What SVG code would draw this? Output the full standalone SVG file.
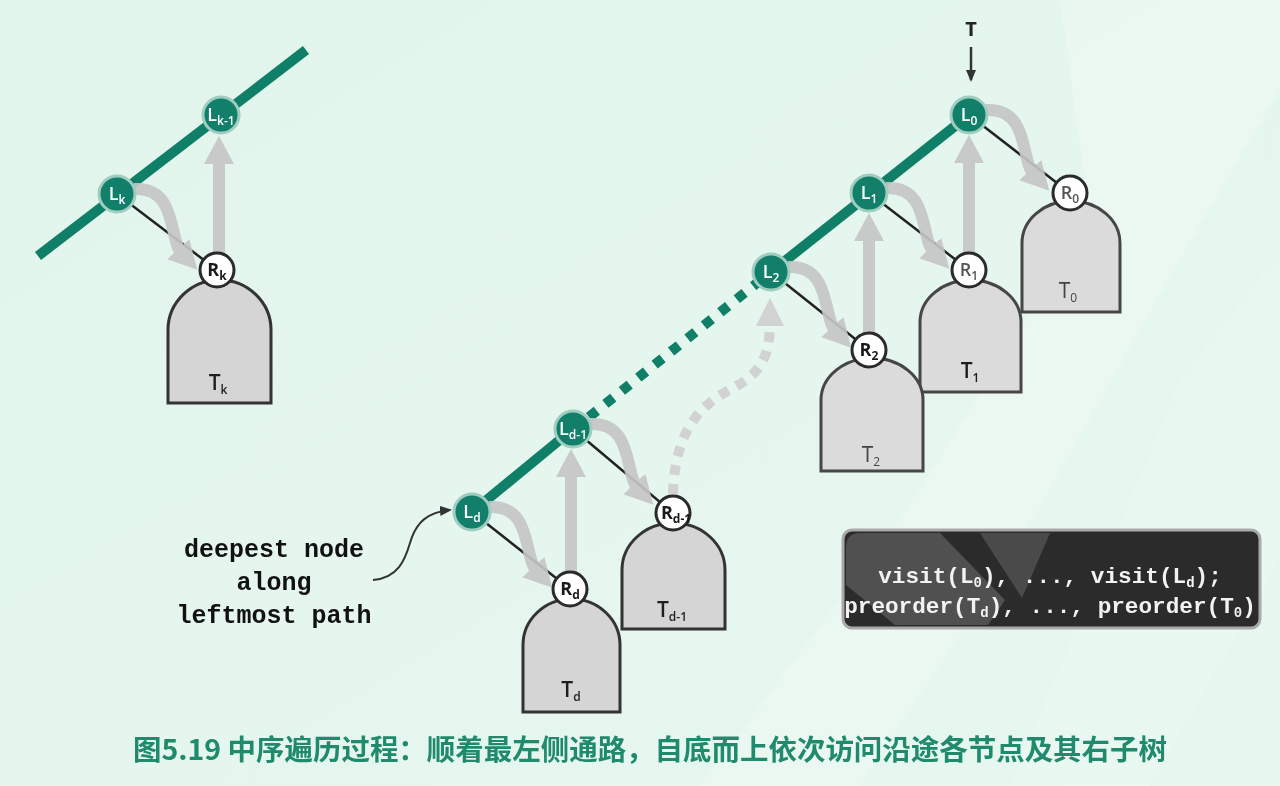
<svg xmlns="http://www.w3.org/2000/svg" width="1280" height="786" viewBox="0 0 1280 786">
<defs>
<linearGradient id="bg" x1="0" y1="0" x2="1" y2="1">
<stop offset="0" stop-color="#e2f5ec"/>
<stop offset="1" stop-color="#e6f7ef"/>
</linearGradient>
<marker id="gh" markerUnits="userSpaceOnUse" viewBox="0 0 28 30" markerWidth="28" markerHeight="30" refX="4" refY="15" orient="auto">
<path d="M0,0 L28,15 L0,30 Z" fill="#c6c6c6"/>
</marker>
<marker id="gh2" markerUnits="userSpaceOnUse" viewBox="0 0 28 28" markerWidth="28" markerHeight="28" refX="4" refY="14" orient="auto">
<path d="M0,0 L28,14 L0,28 Z" fill="#d2d2d2"/>
</marker>
<marker id="bh" markerUnits="userSpaceOnUse" viewBox="0 0 12 10" markerWidth="12" markerHeight="10" refX="10" refY="5" orient="auto">
<path d="M0,0 L12,5 L0,10 Z" fill="#333"/>
</marker>
<path id="curl" d="M17,-5 C60,-8 52,45 64,58"/>
<style>
.green{stroke:#0f7f67;stroke-width:10;fill:none}
.edge{stroke:#222;stroke-width:2.5}
.garrow{stroke:#c6c6c6;stroke-width:12;fill:none;marker-end:url(#gh)}
.lnode{fill:#117f69;stroke:#9fcdc0;stroke-width:3}
.rnode{fill:#ffffff;stroke:#2a2a2a;stroke-width:3}
.tree{fill:#d5d5d5;stroke:#333;stroke-width:3}
.tree2{fill:#dbdbdb;stroke:#464646;stroke-width:3}
.ltxt{font-family:"Open Sans","Liberation Sans",sans-serif;font-size:18px;font-weight:600;fill:#ffffff;text-anchor:middle}
.rtxt{font-family:"Open Sans","Liberation Sans",sans-serif;font-size:18px;font-weight:700;fill:#1a1a1a;text-anchor:middle}
.rtxt2{font-family:"Open Sans","Liberation Sans",sans-serif;font-size:18px;font-weight:600;fill:#555;text-anchor:middle}
.ttxt{font-family:"Open Sans","Liberation Sans",sans-serif;font-size:21px;font-weight:600;fill:#1e1e1e;text-anchor:middle}
.ttxt2{font-family:"Open Sans","Liberation Sans",sans-serif;font-size:21px;font-weight:400;fill:#444;text-anchor:middle}
.sub{font-size:12px}
.mono{font-family:"Liberation Mono","DejaVu Sans Mono",monospace;font-weight:700}
</style>
</defs>

<rect x="0" y="0" width="1280" height="786" fill="url(#bg)"/>
<g id="watermark" fill="#ffffff" opacity="0.22">
<path d="M1060,0 L1280,0 L1280,90 L1180,260 L1010,560 L860,786 L700,786 L900,520 L1090,220 Z"/>
<path d="M1180,380 L1280,250 L1280,560 L1150,786 L1010,786 Z" opacity="0.6"/>
</g>

<g id="connectors">
<line class="green" x1="38" y1="256" x2="306" y2="50"/>
<line class="green" x1="472" y1="512" x2="573" y2="429"/>
<line class="green" x1="771" y1="272" x2="969" y2="115"/>
<line class="green" x1="589" y1="417" x2="757" y2="283" stroke-dasharray="10 11"/>

<line class="edge" x1="117" y1="194" x2="217" y2="270"/>
<line class="edge" x1="969" y1="115" x2="1070" y2="193"/>
<line class="edge" x1="869" y1="193" x2="969" y2="270"/>
<line class="edge" x1="771" y1="272" x2="869" y2="350"/>
<line class="edge" x1="573" y1="429" x2="673" y2="513"/>
<line class="edge" x1="472" y1="512" x2="570" y2="589"/>

<g opacity="0.92">
<use href="#curl" class="garrow" transform="translate(117,194)"/>
<use href="#curl" class="garrow" transform="translate(969,115)"/>
<use href="#curl" class="garrow" transform="translate(869,193)"/>
<use href="#curl" class="garrow" transform="translate(771,272)"/>
<use href="#curl" class="garrow" transform="translate(573,429)"/>
<use href="#curl" class="garrow" transform="translate(472,512)"/>
<line class="garrow" x1="219" y1="254" x2="219" y2="160"/>
<line class="garrow" x1="571" y1="573" x2="571" y2="473"/>
<line class="garrow" x1="869" y1="334" x2="869" y2="237"/>
<line class="garrow" x1="969" y1="254" x2="969" y2="159"/>
</g>
<path d="M673,494 C675,425 705,402 735,387 C758,374 770,360 770,322" stroke="#d2d2d2" stroke-width="10" fill="none" stroke-dasharray="10 9" marker-end="url(#gh2)"/>

<line x1="971" y1="47" x2="971" y2="80" stroke="#333" stroke-width="2.5" marker-end="url(#bh)"/>
<path d="M373,580 C398,578 405,560 410,543 C416,522 428,512 450,510" stroke="#333" stroke-width="2" fill="none" marker-end="url(#bh)"/>
</g>

<g id="tree-T0"><path class="tree2" d="M1022,312 V243 A49,42 0 0 1 1120,243 V312 Z"/><text class="ttxt2" x="1068" y="298">T<tspan class="sub" dy="4">0</tspan></text></g>
<g id="tree-T1"><path class="tree2" d="M920,392 V322 A50.5,42 0 0 1 1021,322 V392 Z"/><text class="ttxt" x="970" y="378">T<tspan class="sub" dy="4">1</tspan></text></g>
<g id="tree-T2"><path class="tree2" d="M821,471 V400 A51,42 0 0 1 923,400 V471 Z"/><text class="ttxt2" x="871" y="462">T<tspan class="sub" dy="4">2</tspan></text></g>
<g id="tree-Tk"><path class="tree" d="M168,403 V330 A51.5,50 0 0 1 271,330 V403 Z"/><text class="ttxt" x="218" y="390">T<tspan class="sub" dy="4">k</tspan></text></g>
<g id="tree-Td1"><path class="tree" d="M622,629 V570 A51.5,47 0 0 1 725,570 V629 Z"/><text class="ttxt" x="672" y="617">T<tspan class="sub" dy="4">d-1</tspan></text></g>
<g id="tree-Td"><path class="tree" d="M523,712 V645 A48.5,46 0 0 1 620,645 V712 Z"/><text class="ttxt" x="571" y="697">T<tspan class="sub" dy="4">d</tspan></text></g>

<g id="node-Rk"><circle class="rnode" cx="217" cy="270" r="17"/><text class="rtxt" x="217" y="276">R<tspan class="sub" dy="4">k</tspan></text></g>
<g id="node-R0"><circle class="rnode" cx="1070" cy="193" r="17"/><text class="rtxt2" x="1070" y="199">R<tspan class="sub" dy="4">0</tspan></text></g>
<g id="node-R1"><circle class="rnode" cx="969" cy="270" r="17"/><text class="rtxt2" x="969" y="276">R<tspan class="sub" dy="4">1</tspan></text></g>
<g id="node-R2"><circle class="rnode" cx="869" cy="350" r="17"/><text class="rtxt" x="869" y="356">R<tspan class="sub" dy="4">2</tspan></text></g>
<g id="node-Rd1"><circle class="rnode" cx="673" cy="513" r="17"/><text class="rtxt" x="676" y="519">R<tspan class="sub" dy="4">d-1</tspan></text></g>
<g id="node-Rd"><circle class="rnode" cx="570" cy="589" r="17"/><text class="rtxt" x="570" y="595">R<tspan class="sub" dy="4">d</tspan></text></g>

<g id="node-Lk"><circle class="lnode" cx="117" cy="194" r="18"/><text class="ltxt" x="117" y="200">L<tspan class="sub" dy="4">k</tspan></text></g>
<g id="node-Lk1"><circle class="lnode" cx="221" cy="115" r="18"/><text class="ltxt" x="221" y="121">L<tspan class="sub" dy="4">k-1</tspan></text></g>
<g id="node-L0"><circle class="lnode" cx="969" cy="115" r="18"/><text class="ltxt" x="969" y="121">L<tspan class="sub" dy="4">0</tspan></text></g>
<g id="node-L1"><circle class="lnode" cx="869" cy="193" r="18"/><text class="ltxt" x="869" y="199">L<tspan class="sub" dy="4">1</tspan></text></g>
<g id="node-L2"><circle class="lnode" cx="771" cy="272" r="18"/><text class="ltxt" x="771" y="278">L<tspan class="sub" dy="4">2</tspan></text></g>
<g id="node-Ld1"><circle class="lnode" cx="573" cy="429" r="18"/><text class="ltxt" x="573" y="435">L<tspan class="sub" dy="4">d-1</tspan></text></g>
<g id="node-Ld"><circle class="lnode" cx="472" cy="512" r="18"/><text class="ltxt" x="472" y="518">L<tspan class="sub" dy="4">d</tspan></text></g>

<g id="label-T"><text x="971" y="36" font-family="'Open Sans','Liberation Sans',sans-serif" font-size="20" font-weight="700" fill="#222" text-anchor="middle">T</text></g>

<g id="note" class="mono" font-size="25" fill="#111" text-anchor="middle">
<text x="274" y="557">deepest node</text>
<text x="274" y="590">along</text>
<text x="274" y="623">leftmost path</text>
</g>

<g id="code-box">
<rect x="843" y="530" width="417" height="98" rx="9" fill="#2b2b2b" stroke="#a9a9a9" stroke-width="3"/>
<path d="M846,548 Q846,533 860,533 L940,533 L1005,600 L988,625 L895,625 L846,585 Z" fill="#5a5a5a" opacity="0.8"/>
<path d="M980,533 L1050,533 L1022,598 Z" fill="#565656" opacity="0.75"/>
<g class="mono" font-size="22.7" fill="#f2f2f2" text-anchor="middle">
<text x="1050" y="583">visit(L<tspan font-size="14" dy="4">0</tspan><tspan dy="-4">), ..., visit(L</tspan><tspan font-size="14" dy="4">d</tspan><tspan dy="-4">);</tspan></text>
<text x="1050" y="613">preorder(T<tspan font-size="14" dy="4">d</tspan><tspan dy="-4">), ..., preorder(T</tspan><tspan font-size="14" dy="4">0</tspan><tspan dy="-4">)</tspan></text>
</g>
</g>

<g id="caption"><text x="650" y="760" font-family="'Noto Sans CJK SC',sans-serif" font-size="28" font-weight="700" fill="#1f8a6c" text-anchor="middle" textLength="1034" lengthAdjust="spacingAndGlyphs">图5.19 中序遍历过程：顺着最左侧通路，自底而上依次访问沿途各节点及其右子树</text></g>
</svg>
